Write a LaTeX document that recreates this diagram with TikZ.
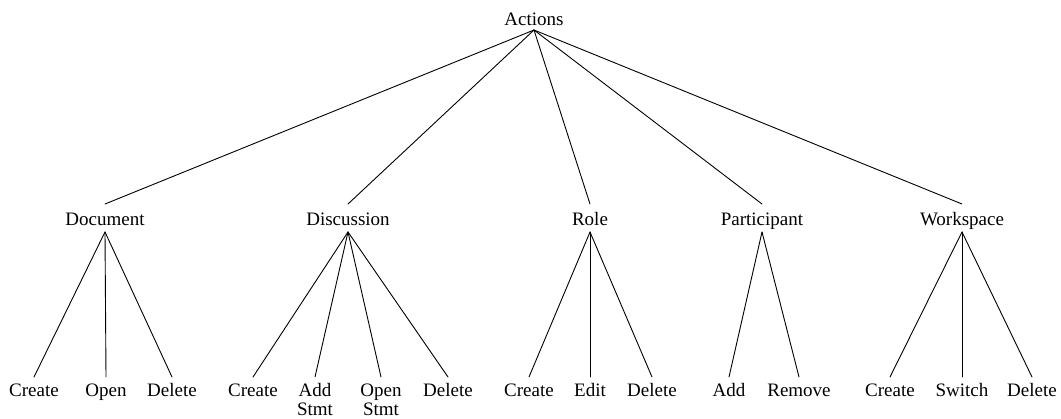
\documentclass[tikz,border=0pt]{standalone}
\usepackage{fontspec}
\setmainfont{Liberation Serif}
\begin{document}
\begin{tikzpicture}[x=1pt,y=-1pt,
  lbl/.style={inner sep=0pt,anchor=base,font=\fontsize{19pt}{19pt}\selectfont},
  edge/.style={line width=0.9pt,line cap=round}]
\useasboundingbox (0,0) rectangle (1061,418);
% root
\node[lbl] (act) at (534,25) {Actions};
% level 1
\node[lbl] (doc) at (105,225) {Document};
\node[lbl] (dis) at (348,225) {Discussion};
\node[lbl] (rol) at (590,225) {Role};
\node[lbl] (par) at (762,225) {Participant};
\node[lbl] (wor) at (962,225) {Workspace};
% leaves
\node[lbl] (d1) at (34,396) {Create};
\node[lbl] (d2) at (106,396) {Open};
\node[lbl] (d3) at (172,396) {Delete};
\node[lbl] (s1) at (253,396) {Create};
\node[lbl] (s2) at (315,396) {\begin{tabular}[t]{@{}c@{}}Add\\Stmt\end{tabular}};
\node[lbl] (s3) at (381,396) {\begin{tabular}[t]{@{}c@{}}Open\\Stmt\end{tabular}};
\node[lbl] (s4) at (448,396) {Delete};
\node[lbl] (r1) at (529,396) {Create};
\node[lbl] (r2) at (590,396) {Edit};
\node[lbl] (r3) at (652,396) {Delete};
\node[lbl] (p1) at (729,396) {Add};
\node[lbl] (p2) at (799,396) {Remove};
\node[lbl] (w1) at (890,396) {Create};
\node[lbl] (w2) at (962,396) {Switch};
\node[lbl] (w3) at (1032,396) {Delete};
% root connectors
\coordinate (actb) at ([yshift=-5pt]act.base);
\foreach \n in {doc,dis,rol,par,wor}
  \draw[edge] (actb) -- ([yshift=21pt]\n.base);
% level-1 connectors
\foreach \p/\c in {doc/d1,doc/d2,doc/d3,dis/s1,dis/s2,dis/s3,dis/s4,rol/r1,rol/r2,rol/r3,par/p1,par/p2,wor/w1,wor/w2,wor/w3}
  \draw[edge] ([yshift=-7pt]\p.base) -- ([yshift=19pt]\c.base);
\end{tikzpicture}
\end{document}
